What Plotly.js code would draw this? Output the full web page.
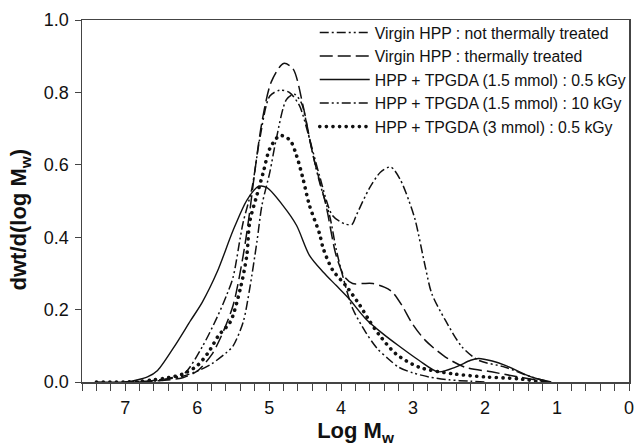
<!DOCTYPE html>
<html>
<head>
<meta charset="utf-8">
<script src="https://cdn.plot.ly/plotly-3.0.1.min.js"></script>
<style>
  html, body { margin: 0; padding: 0; background: #fff; }
  #chart { width: 636px; height: 448px; }
  path.js-line[style*="0.1px"] { stroke-linecap: round; }
</style>
</head>
<body>
<div id="chart"></div>
<script>
// ---- data ----
const seriesNames = [
  "Virgin HPP : not thermally treated",
  "Virgin HPP : thermally treated",
  "HPP + TPGDA (1.5 mmol) : 0.5 kGy",
  "HPP + TPGDA (1.5 mmol) : 10 kGy",
  "HPP + TPGDA (3 mmol) : 0.5 kGy"
];

const xNotTreated = [7.0, 6.6, 6.4, 6.2, 6.0, 5.8, 5.6, 5.5, 5.36, 5.27, 5.17, 5.1, 4.99, 4.9, 4.76, 4.65, 4.55, 4.44, 4.3, 4.16, 4.07, 3.98, 3.84, 3.66, 3.5, 3.35, 3.2, 3.0, 2.78, 2.5, 2.2, 2.0];
const yNotTreated = [0, 0.003, 0.008, 0.016, 0.03, 0.05, 0.08, 0.10, 0.166, 0.258, 0.387, 0.488, 0.58, 0.672, 0.78, 0.795, 0.77, 0.672, 0.552, 0.46, 0.368, 0.295, 0.203, 0.138, 0.093, 0.065, 0.041, 0.025, 0.014, 0.006, 0.002, 0];

const xTreated = [6.8, 6.5, 6.2, 6.0, 5.8, 5.68, 5.5, 5.36, 5.27, 5.2, 5.1, 4.97, 4.8, 4.67, 4.53, 4.39, 4.21, 4.07, 3.95, 3.84, 3.7, 3.56, 3.4, 3.29, 3.15, 3.01, 2.83, 2.55, 2.28, 1.91, 1.54, 1.3, 1.1];
const yTreated = [0, 0.004, 0.012, 0.03, 0.075, 0.12, 0.212, 0.35, 0.47, 0.58, 0.718, 0.829, 0.88, 0.866, 0.764, 0.626, 0.488, 0.35, 0.29, 0.272, 0.272, 0.272, 0.262, 0.249, 0.21, 0.161, 0.115, 0.069, 0.041, 0.028, 0.014, 0.006, 0];

const xLowDose = [7.4, 7.0, 6.85, 6.69, 6.55, 6.32, 6.09, 5.93, 5.72, 5.5, 5.31, 5.15, 5.03, 4.81, 4.62, 4.44, 4.25, 4.07, 3.89, 3.66, 3.43, 3.2, 2.92, 2.65, 2.41, 2.2, 2.09, 1.9, 1.72, 1.36, 1.08];
const yLowDose = [0, 0, 0.005, 0.014, 0.032, 0.097, 0.17, 0.22, 0.305, 0.419, 0.502, 0.54, 0.537, 0.488, 0.433, 0.35, 0.304, 0.267, 0.23, 0.175, 0.135, 0.1, 0.06, 0.028, 0.041, 0.06, 0.065, 0.058, 0.046, 0.014, 0];

const xHighDose = [7.0, 6.6, 6.4, 6.18, 5.93, 5.72, 5.59, 5.5, 5.4, 5.36, 5.24, 5.13, 4.99, 4.85, 4.72, 4.58, 4.45, 4.3, 4.12, 3.95, 3.85, 3.79, 3.61, 3.45, 3.31, 3.18, 3.06, 2.97, 2.83, 2.74, 2.55, 2.32, 2.09, 1.72, 1.36, 1.1];
const yHighDose = [0, 0.004, 0.01, 0.023, 0.097, 0.18, 0.24, 0.29, 0.40, 0.442, 0.534, 0.672, 0.79, 0.806, 0.80, 0.764, 0.68, 0.57, 0.46, 0.437, 0.435, 0.46, 0.534, 0.58, 0.594, 0.56, 0.502, 0.447, 0.318, 0.244, 0.17, 0.097, 0.06, 0.041, 0.014, 0];

const xMoreTPGDA = [7.4, 7.0, 6.8, 6.6, 6.4, 6.2, 6.0, 5.85, 5.7, 5.54, 5.4, 5.31, 5.27, 5.17, 5.08, 4.99, 4.85, 4.71, 4.62, 4.53, 4.44, 4.3, 4.25, 4.12, 3.93, 3.75, 3.61, 3.47, 3.24, 2.92, 2.46, 2.0, 1.54, 1.2];
const yMoreTPGDA = [0, 0, 0.002, 0.006, 0.012, 0.022, 0.045, 0.08, 0.129, 0.166, 0.258, 0.35, 0.442, 0.516, 0.58, 0.645, 0.681, 0.668, 0.626, 0.562, 0.488, 0.41, 0.37, 0.31, 0.265, 0.215, 0.17, 0.13, 0.078, 0.041, 0.023, 0.014, 0.009, 0];

const xTickVals = [7, 6, 5, 4, 3, 2, 1, 0];
const yTickVals = [0.0, 0.2, 0.4, 0.6, 0.8, 1.0];

// ---- styling ----
const ink = '#111';
const dashes = [
  '9px,3px,2px,3px,9px,3px,2px,3px,2px,3px',
  '13px,5px',
  'solid',
  '9px,3px,2px,3px,2px,3px,9px,3px,2px,3px',
  '0.1px,6.5px'
];
const widths = [1.5, 1.5, 1.4, 1.5, 3.6];
const xs = [xNotTreated, xTreated, xLowDose, xHighDose, xMoreTPGDA];
const ys = [yNotTreated, yTreated, yLowDose, yHighDose, yMoreTPGDA];

const traces = seriesNames.map((name, i) => ({
  type: 'scatter',
  mode: 'lines',
  name: name,
  x: xs[i],
  y: ys[i],
  line: { color: ink, width: widths[i], dash: dashes[i], shape: 'spline', smoothing: 0.8 },
  hoverinfo: 'skip'
}));

const fontFam = 'Liberation Sans, Arial, Helvetica, sans-serif';

const layout = {
  width: 636,
  height: 448,
  margin: { l: 82, r: 4, t: 20, b: 66, pad: 0 },
  paper_bgcolor: '#fff',
  plot_bgcolor: '#fff',
  font: { family: fontFam, color: '#111', size: 18 },
  showlegend: true,
  legend: {
    x: 1.005, xanchor: 'right', y: 1.012, yanchor: 'top',
    bgcolor: 'rgba(0,0,0,0)',
    font: { family: fontFam, size: 15.8, color: '#111' },
    itemwidth: 50,
    tracegroupgap: 0
  },
  xaxis: {
    range: [7.6, 0],
    tickvals: xTickVals,
    ticktext: xTickVals.map(String),
    ticks: 'outside', ticklen: 7, tickwidth: 1, tickcolor: '#444',
    minor: { dtick: 0.2, tick0: 0, ticks: 'outside', ticklen: 7, tickwidth: 1, tickcolor: '#444' },
    showline: true, linecolor: '#444', linewidth: 1.5, mirror: true,
    showgrid: false, zeroline: false,
    tickfont: { family: fontFam, size: 18, color: '#111' },
    ticklabelstandoff: 2,
    ticklabeloverflow: 'allow',
    title: { text: '<b>Log M<sub>w</sub></b>', font: { family: fontFam, size: 22, color: '#111' }, standoff: 5 }
  },
  yaxis: {
    range: [0, 1.0],
    tickvals: yTickVals,
    ticktext: yTickVals.map(v => v.toFixed(1)),
    ticks: 'outside', ticklen: 6, tickwidth: 1, tickcolor: '#444',
    showline: true, linecolor: '#444', linewidth: 1.5, mirror: true,
    showgrid: false, zeroline: false,
    tickfont: { family: fontFam, size: 18, color: '#111' },
    ticklabelstandoff: 2,
    ticklabeloverflow: 'allow'
  },
  annotations: [{
    text: '<b>dwt/d(log M<sub>w</sub>)</b>',
    xref: 'paper', yref: 'paper',
    x: -0.1127, y: 0.45,
    xanchor: 'center', yanchor: 'middle',
    textangle: -90, showarrow: false,
    font: { family: fontFam, size: 22, color: '#111' }
  }]
};

Plotly.newPlot('chart', traces, layout, { staticPlot: true, displayModeBar: false });
</script>
</body>
</html>
